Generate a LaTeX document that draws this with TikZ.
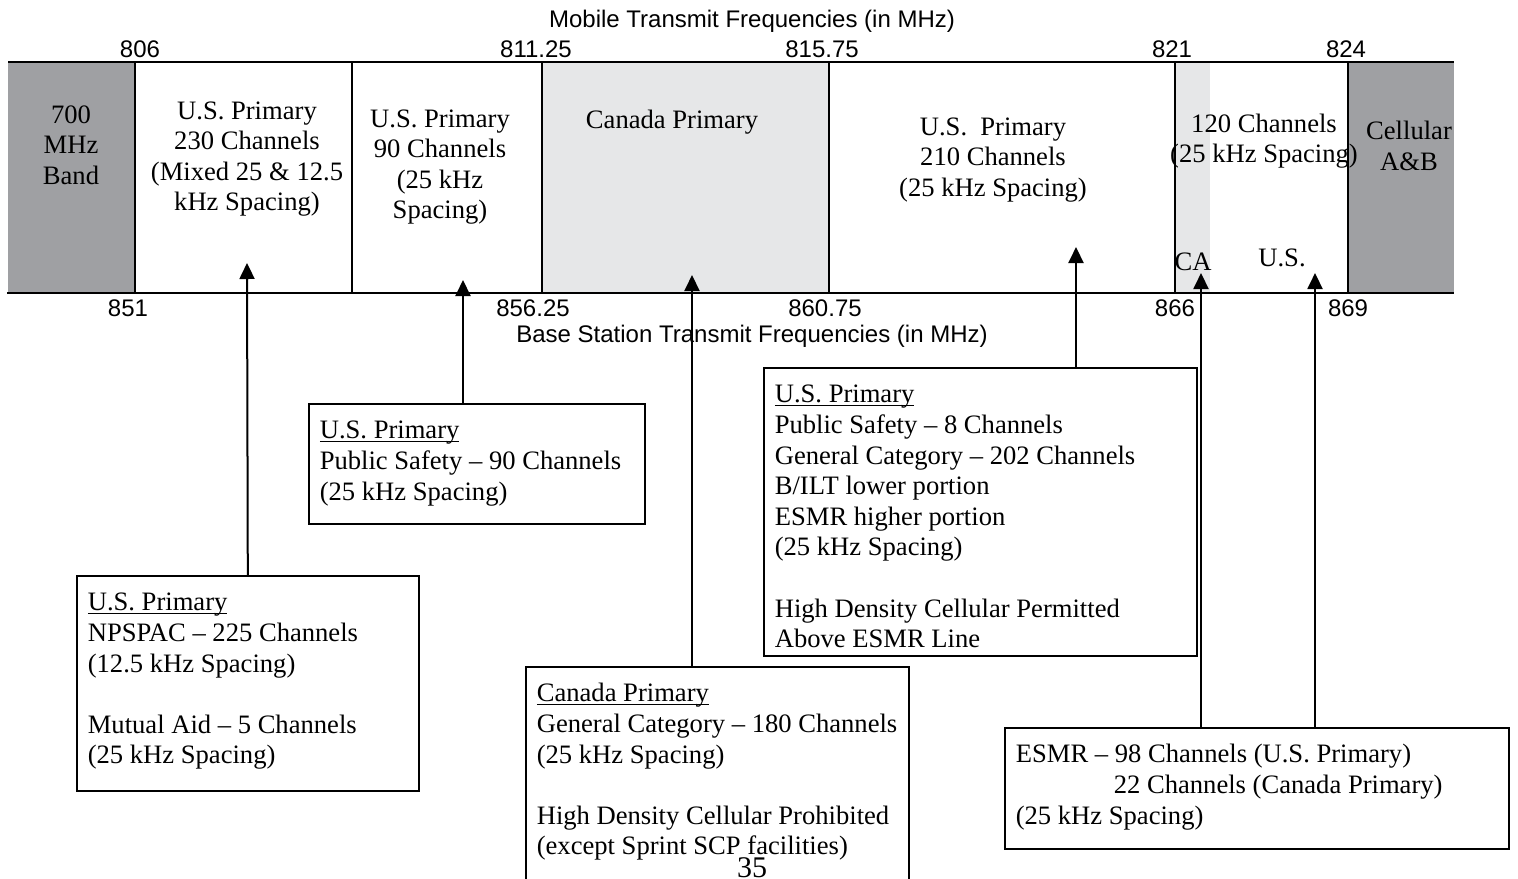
\documentclass[tikz,border=0pt]{standalone}
\usepackage{fontspec}
\setmainfont{Liberation Serif}
\setsansfont{Liberation Sans}
\usetikzlibrary{arrows.meta}
\definecolor{bandDark}{HTML}{9FA0A3}
\definecolor{bandLight}{HTML}{E6E7E8}
\newcommand\headline[1]{\underline{\smash{#1}}}

\begin{document}
\begin{tikzpicture}[
    x=0.5pt, y=-0.5pt,
    lbl/.style={font=\fontsize{13.3pt}{15.3pt}\selectfont, align=center, inner sep=0pt},
    freq/.style={font=\sffamily\fontsize{12pt}{14pt}\selectfont, inner sep=0pt},
    bandline/.style={line width=1pt},
    note/.style={draw, line width=0.8pt, anchor=north west, align=left,
      font=\fontsize{13.3pt}{15.3pt}\selectfont, inner xsep=5.5pt, inner ysep=8.5pt, text height=9pt,
      execute at begin node={\spaceskip=0pt\xspaceskip=0pt\relax}},
    arr/.style={-{Triangle[width=7.5pt,length=8pt]}, line width=1pt},
]
\useasboundingbox (0,0) rectangle (1518,878);
\clip (0,0) rectangle (1518,878);
\fill[bandDark] (8,62) rectangle (135,293);
\fill[bandDark] (1348,62) rectangle (1454,293);
\fill[bandLight] (542,62) rectangle (829,293);
\fill[bandLight] (1175,62) rectangle (1210,293);
\node[freq] (mobtitle) at (752,21) {Mobile Transmit Frequencies (in MHz)};
\node[freq] (basetitle) at (752,336) {Base Station Transmit Frequencies (in MHz)};
\foreach \x/\f [count=\i] in {140/806, 536/811.25, 822/815.75, 1172/821, 1346/824}
  \node[freq] (mob\i) at (\x,49) {\f};
\foreach \x/\f [count=\i] in {128/851, 533/856.25, 825/860.75, 1175/866, 1348/869}
  \node[freq] (base\i) at (\x,308) {\f};
\node[lbl] (band700) at (71,145) {700\\MHz\\Band};
\node[lbl] (us230) at (247,159) {U.S. Primary\\230 Channels\\(Mixed 25 \& 12.5\\kHz Spacing)};
\node[lbl] (us90) at (440,167) {U.S. Primary\\90 Channels\\(25 kHz\\Spacing)};
\node[lbl] (caprim) at (672,122) {Canada Primary};
\node[lbl] (us210) at (993,160) {U.S.\ \ Primary\\210 Channels\\(25 kHz Spacing)};
\node[lbl] (ch120) at (1264,141) {120 Channels\\(25 kHz Spacing)};
\node[lbl] (cell) at (1409,146) {Cellular\\A\&B};
\node[lbl] (ca) at (1193,262) {CA};
\node[lbl] (us) at (1282,258) {U.S.};
\draw[bandline] (8,62) -- (1454,62);
\draw[bandline] (7,293) -- (1454,293);
\foreach \x in {135,352,542,829,1175,1348}
  \draw[bandline] (\x,62) -- (\x,293);
\node[note, text width=160pt, text depth=81.5pt] (npspac) at (76,575)
  {\headline{U.S. Primary}\\NPSPAC -- 225 Channels\\(12.5 kHz Spacing)\\~\\Mutual Aid -- 5 Channels\\(25 kHz Spacing)};
\node[note, text width=157pt, text depth=34pt] (pubsafety) at (308,403)
  {\headline{U.S. Primary}\\Public Safety -- 90 Channels\\(25 kHz Spacing)};
\node[note, text width=180.5pt, text depth=89pt] (canada) at (525,666)
  {\headline{Canada Primary}\\General Category -- 180 Channels\\(25 kHz Spacing)\\~\\High Density Cellular Prohibited\\(except Sprint SCP facilities)};
\node[note, text width=205.5pt, text depth=118pt] (general) at (763,367)
  {\headline{U.S. Primary}\\Public Safety -- 8 Channels\\General Category -- 202 Channels\\B/ILT lower portion\\ESMR higher portion\\(25 kHz Spacing)\\~\\High Density Cellular Permitted\\Above ESMR Line};
\node[note, text width=241pt, text depth=34.5pt] (esmr) at (1004,727)
  {ESMR -- 98 Channels (U.S. Primary)\\\hspace*{49pt}22 Channels (Canada Primary)\\(25 kHz Spacing)};
\node[lbl, anchor=base, font=\fontsize{15pt}{17pt}\selectfont] (pagenum) at (752,877) {35};
\coordinate (tipA) at (247,263);
\coordinate (tipB) at (463,280);
\coordinate (tipC) at (692,275);
\coordinate (tipD) at (1076,247);
\coordinate (tipCA) at (1201,273);
\coordinate (tipUS) at (1315,273);
\draw[arr] (npspac.north) -- (tipA);
\draw[arr] (tipB |- pubsafety.north) -- (tipB);
\draw[arr] (tipC |- canada.north) -- (tipC);
\draw[arr] (tipD |- general.north) -- (tipD);
\draw[arr] (tipCA |- esmr.north) -- (tipCA);
\draw[arr] (tipUS |- esmr.north) -- (tipUS);
\end{tikzpicture}
\end{document}
